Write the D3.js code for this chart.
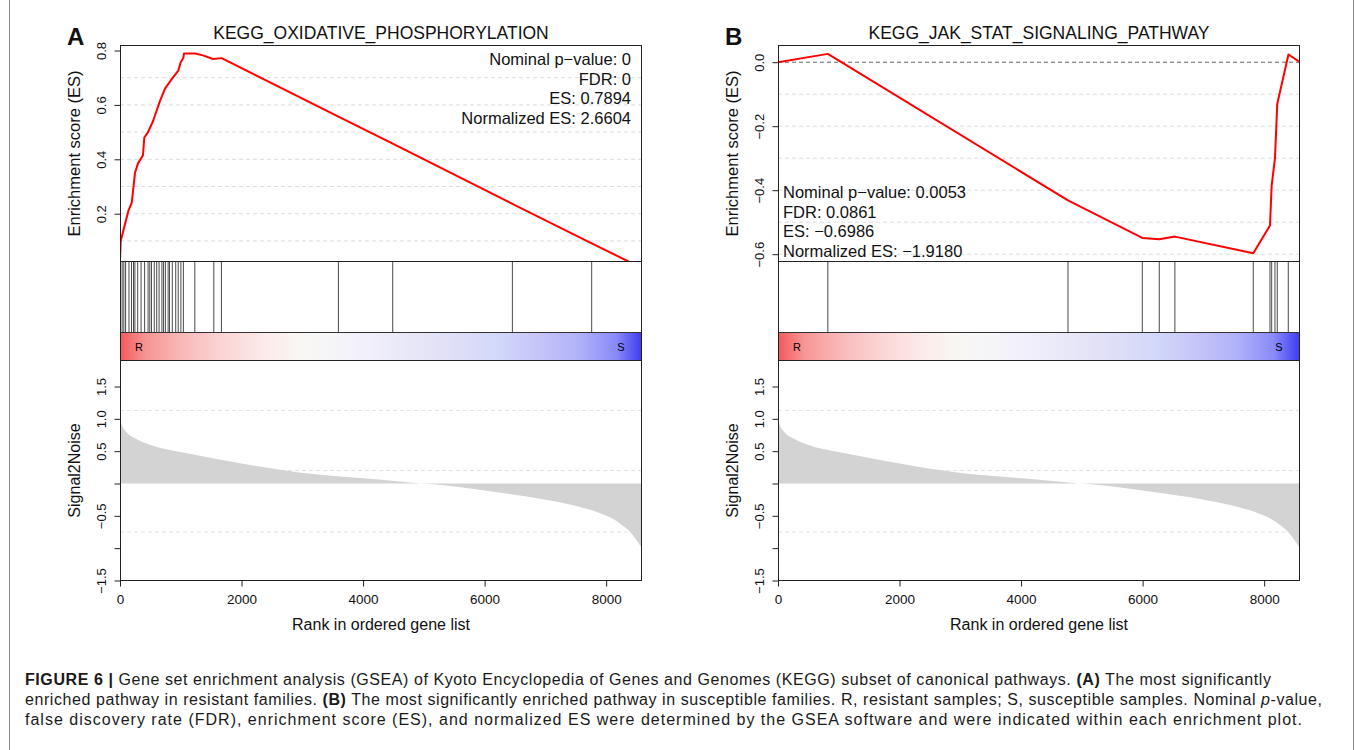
<!DOCTYPE html>
<html><head><meta charset="utf-8">
<script src="https://cdn.jsdelivr.net/npm/d3@7"></script>
<style>html,body{margin:0;padding:0;background:#fff;} svg{display:block;}</style>
</head><body>
<svg id="c" width="1355" height="750"></svg>
<script>
// ---------------- data ----------------
const nGenes = 8590;
const rankTicks = [0, 2000, 4000, 6000, 8000];

// ranked list metric (Signal2Noise), same list in both panels
const s2nRank  = [0, 30, 110, 270, 490, 1040, 1590, 2000, 2950, 4000, 4600, 4950, 5150, 6000, 7050, 7600, 7870, 8200, 8440, 8540, 8590];
const s2nValue = [0.98, 0.90, 0.79, 0.69, 0.60, 0.48, 0.38, 0.31, 0.17, 0.08, 0.03, 0.0, -0.01, -0.11, -0.26, -0.37, -0.45, -0.60, -0.80, -0.93, -1.0];

// Panel A: running enrichment score
const esRankA  = [0, 12, 137, 193, 247, 296, 378, 400, 461, 543, 658, 741, 851, 959, 999, 1042, 1053, 1234, 1366, 1530, 1673, 3594, 4488, 6457, 7762, 8590];
const esValueA = [0.028, 0.10, 0.21, 0.24, 0.35, 0.385, 0.415, 0.48, 0.50, 0.54, 0.615, 0.66, 0.695, 0.726, 0.757, 0.773, 0.789, 0.789, 0.782, 0.769, 0.772, 0.557, 0.458, 0.236, 0.091, 0.0];
const hitsA = [35, 63, 92, 148, 189, 222, 245, 291, 347, 405, 462, 490, 518, 564, 604, 643, 690, 717, 747, 792, 815, 861, 917, 958, 1002, 1043, 1231, 1544, 1669, 3594, 4488, 6457, 7762];

// Panel B
const esRankB  = [0, 820, 4772, 5995, 6274, 6531, 7821, 8096, 8124, 8178, 8216, 8400, 8590];
const esValueB = [0, 0.026, -0.432, -0.549, -0.553, -0.545, -0.597, -0.510, -0.385, -0.30, -0.13, 0.024, 0.0];
const hitsB = [820, 4772, 5995, 6274, 6531, 7821, 8096, 8124, 8178, 8216, 8397];

const titles = ["KEGG_OXIDATIVE_PHOSPHORYLATION", "KEGG_JAK_STAT_SIGNALING_PATHWAY"];
const letters = ["A", "B"];
const statsA = ["Nominal p\u2212value: 0", "FDR: 0", "ES: 0.7894", "Normalized ES: 2.6604"];
const statsB = ["Nominal p\u2212value: 0.0053", "FDR: 0.0861", "ES: \u22120.6986", "Normalized ES: \u22121.9180"];
const esTicksA = [0.2, 0.4, 0.6, 0.8];
const esTicksB = [0.0, -0.2, -0.4, -0.6];
const esGridA = [0.1, 0.2, 0.3, 0.4, 0.5, 0.6, 0.7];
const esGridB = [-0.1, -0.2, -0.3, -0.4, -0.5, -0.6];
const s2nTicks = [1.5, 1.0, 0.5, 0, -0.5, -1.0, -1.5];
const s2nTickLabels = ["1.5", "1.0", "0.5", "", "\u22120.5", "", "\u22121.5"];
const s2nGrid = [1.13, 0.2, -0.75];

const captionLines = [
  [["b", "FIGURE 6 | "], ["n", "Gene set enrichment analysis (GSEA) of Kyoto Encyclopedia of Genes and Genomes (KEGG) subset of canonical pathways. "], ["b", "(A)"], ["n", " The most significantly"]],
  [["n", "enriched pathway in resistant families. "], ["b", "(B)"], ["n", " The most significantly enriched pathway in susceptible families. R, resistant samples; S, susceptible samples. Nominal "], ["i", "p"], ["n", "-value,"]],
  [["n", "false discovery rate (FDR), enrichment score (ES), and normalized ES were determined by the GSEA software and were indicated within each enrichment plot."]]
];

// ---------------- drawing ----------------
const FONT = "'Liberation Sans', Arial, Helvetica, sans-serif";
const svg = d3.select("#c").style("font-family", FONT);

// gradient for the phenotype bar
const defs = svg.append("defs");
const grad = defs.append("linearGradient").attr("id", "rsgrad").attr("x1", "0").attr("x2", "1").attr("y1", "0").attr("y2", "0");
[[0, "#f25a5a"], [0.05, "#f79595"], [0.12, "#f9b9b9"], [0.2, "#fbd6d6"], [0.28, "#fbecea"], [0.35, "#f8f7f4"],
 [0.45, "#f3f2fb"], [0.55, "#e9e8f8"], [0.65, "#dedef7"], [0.72, "#d3d9fa"], [0.8, "#c6c5f8"], [0.88, "#b1b1fa"],
 [0.95, "#8a8afa"], [1, "#3b3bef"]].forEach(s => grad.append("stop").attr("offset", s[0]).attr("stop-color", s[1]));

// figure border
svg.append("line").attr("x1", 9.5).attr("x2", 9.5).attr("y1", 0).attr("y2", 750).attr("stroke", "#8a8a8a");
svg.append("line").attr("x1", 1353.5).attr("x2", 1353.5).attr("y1", 0).attr("y2", 750).attr("stroke", "#8a8a8a");

const W = 522;
const TOP = 45.5, ESB = 261.5, HITB = 332.5, CB = 360.5, BOT = 580.5;

function panel(i, left, esRank, esValue, hits, esDomain, esTicks, esTickFmt, esGrid, stats, statsLeft) {
  const g = svg.append("g");
  const x = d3.scaleLinear().domain([0, nGenes]).range([left, left + W]);
  const yES = d3.scaleLinear().domain(esDomain).range([ESB, TOP]);
  const yS = d3.scaleLinear().domain([-1.5, 1.902]).range([BOT, CB]);

  const clipId = "clip" + i;
  defs.append("clipPath").attr("id", clipId).append("rect")
    .attr("x", left).attr("y", TOP).attr("width", W).attr("height", ESB - TOP);

  // ES grid
  g.selectAll(".esg").data(esGrid).join("line")
    .attr("x1", left).attr("x2", left + W)
    .attr("y1", d => yES(d)).attr("y2", d => yES(d))
    .attr("stroke", "#dcdcdc").attr("stroke-width", 1).attr("stroke-dasharray", "4,3");
  if (esDomain[0] < 0 && esDomain[1] > 0) {
    g.append("line").attr("x1", left).attr("x2", left + W).attr("y1", yES(0)).attr("y2", yES(0))
      .attr("stroke", "#666").attr("stroke-width", 1).attr("stroke-dasharray", "4,3");
  }
  // ES curve
  const pts = esRank.map((r, k) => [r, esValue[k]]);
  g.append("path").datum(pts).attr("clip-path", `url(#${clipId})`)
    .attr("d", d3.line().x(d => x(d[0])).y(d => yES(d[1])))
    .attr("fill", "none").attr("stroke", "#ff0000").attr("stroke-width", 2).attr("stroke-linejoin", "round");

  // hits
  g.selectAll(".hit").data(hits).join("line")
    .attr("x1", d => x(d)).attr("x2", d => x(d)).attr("y1", ESB).attr("y2", HITB)
    .attr("stroke", "#4a4a4a").attr("stroke-width", 1);

  // phenotype bar
  g.append("rect").attr("x", left).attr("y", HITB).attr("width", W).attr("height", CB - HITB).attr("fill", "url(#rsgrad)");
  g.append("text").attr("x", left + 19).attr("y", 350.5).attr("text-anchor", "middle").attr("font-size", 11).text("R");
  g.append("text").attr("x", left + W - 21).attr("y", 350.5).attr("text-anchor", "middle").attr("font-size", 11).text("S");

  // upper box + separators
  g.append("rect").attr("x", left + 0.5).attr("y", TOP).attr("width", W - 1).attr("height", CB - TOP)
    .attr("fill", "none").attr("stroke", "#222");
  g.append("line").attr("x1", left).attr("x2", left + W).attr("y1", ESB).attr("y2", ESB).attr("stroke", "#222");
  g.append("line").attr("x1", left).attr("x2", left + W).attr("y1", HITB).attr("y2", HITB).attr("stroke", "#333");

  // ES axis
  const ax = g.append("g").attr("transform", `translate(${left + 0.5},0)`)
    .call(d3.axisLeft(yES).tickValues(esTicks).tickSize(6).tickFormat(esTickFmt));
  ax.select(".domain").remove();
  ax.selectAll("line").attr("stroke", "#222");
  ax.selectAll("text").attr("transform", "rotate(-90)").attr("x", 0).attr("y", -15).attr("dy", 0)
    .attr("text-anchor", "middle").attr("font-size", 13).attr("font-family", FONT).attr("fill", "#111");

  g.append("text").attr("transform", `translate(${left - 40},${(TOP + ESB) / 2}) rotate(-90)`)
    .attr("text-anchor", "middle").attr("font-size", 16.5).attr("fill", "#111").text("Enrichment score (ES)");

  // title & letter
  g.append("text").attr("x", left + W / 2).attr("y", 39).attr("text-anchor", "middle").attr("font-size", 17.5).attr("fill", "#111").text(titles[i]);
  g.append("text").attr("x", left - 53).attr("y", 45).attr("font-size", 24).attr("font-weight", "bold").attr("fill", "#111").text(letters[i]);

  // stats
  const base = statsLeft ? [198, 217.5, 237, 256.5] : [65, 84.5, 104, 123.5];
  g.selectAll(".st").data(stats).join("text")
    .attr("x", statsLeft ? left + 5 : left + W - 11)
    .attr("y", (d, k) => base[k])
    .attr("text-anchor", statsLeft ? "start" : "end")
    .attr("font-size", 16.5).attr("fill", "#111").text(d => d);

  // ranked list panel
  s2nGrid.forEach(v => g.append("line").attr("x1", left).attr("x2", left + W).attr("y1", yS(v)).attr("y2", yS(v))
    .attr("stroke", "#e2e2e2").attr("stroke-dasharray", "4,3"));
  const sp = s2nRank.map((r, k) => [r, s2nValue[k]]);
  g.append("path").datum(sp)
    .attr("d", d3.area().x(d => x(d[0])).y0(yS(0)).y1(d => yS(d[1])).curve(d3.curveMonotoneX))
    .attr("fill", "#d3d3d3");
  g.append("rect").attr("x", left + 0.5).attr("y", CB).attr("width", W - 1).attr("height", BOT - CB)
    .attr("fill", "none").attr("stroke", "#222");

  const ay = g.append("g").attr("transform", `translate(${left + 0.5},0)`)
    .call(d3.axisLeft(yS).tickValues(s2nTicks).tickSize(6).tickFormat((d, k) => s2nTickLabels[k]));
  ay.select(".domain").remove();
  ay.selectAll("line").attr("stroke", "#222");
  ay.selectAll("text").attr("transform", "rotate(-90)").attr("x", 0).attr("y", -15).attr("dy", 0)
    .attr("text-anchor", "middle").attr("font-size", 13).attr("font-family", FONT).attr("fill", "#111");
  g.append("text").attr("transform", `translate(${left - 40},${(CB + BOT) / 2}) rotate(-90)`)
    .attr("text-anchor", "middle").attr("font-size", 16).attr("fill", "#111").text("Signal2Noise");

  const axx = g.append("g").attr("transform", `translate(0,${BOT})`)
    .call(d3.axisBottom(x).tickValues(rankTicks).tickSize(6).tickFormat(d3.format("d")));
  axx.select(".domain").remove();
  axx.selectAll("line").attr("stroke", "#222");
  axx.selectAll("text").attr("y", 19).attr("dy", "0.32em").attr("font-size", 13.5).attr("font-family", FONT).attr("fill", "#111");
  g.append("text").attr("x", left + W / 2).attr("y", 630).attr("text-anchor", "middle").attr("font-size", 16).attr("fill", "#111")
    .text("Rank in ordered gene list");
}

panel(0, 120, esRankA, esValueA, hitsA, [0.0243, 0.8184], esTicksA, d3.format(".1f"), esGridA, statsA, false);
panel(1, 778, esRankB, esValueB, hitsB, [-0.6228, 0.0522], esTicksB, d => d3.format(".1f")(d).replace("-", "\u2212"), esGridB, statsB, true);

// caption
const capBase = [685, 705, 724.5];
const capLen = [1246, 1297, 1277];
captionLines.forEach((line, k) => {
  const t = svg.append("text").attr("x", 25).attr("y", capBase[k]).attr("font-size", 16).attr("fill", "#1a1a1a");
  line.forEach(seg => {
    const ts = t.append("tspan").text(seg[1]);
    if (seg[0] === "b") ts.attr("font-weight", "bold");
    if (seg[0] === "i") ts.attr("font-style", "italic");
  });
  t.attr("textLength", capLen[k]).attr("lengthAdjust", "spacing");
});
</script>
</body></html>
